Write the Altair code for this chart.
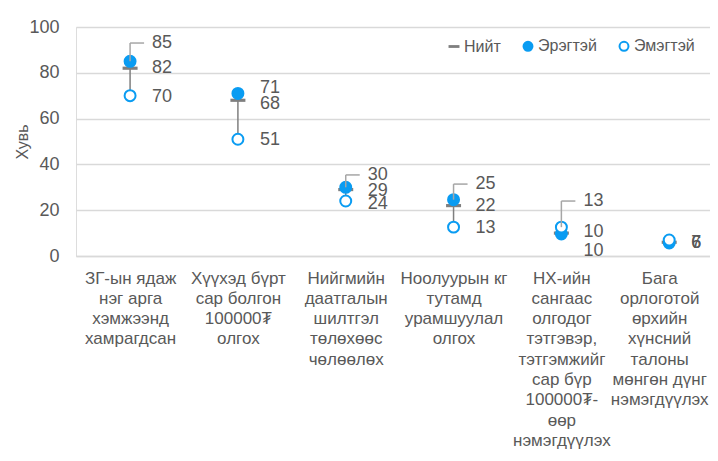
import altair as alt
import pandas as pd

categories = [
    "ЗГ-ын ядаж|нэг арга|хэмжээнд|хамрагдсан",
    "Хүүхэд бүрт|сар болгон|100000₮|олгох",
    "Нийгмийн|даатгалын|шилтгэл|төлөхөөс|чөлөөлөх",
    "Ноолуурын кг|тутамд|урамшуулал|олгох",
    "НХ-ийн|сангаас|олгодог|тэтгэвэр,|тэтгэмжийг|сар бүр|100000₮-|өөр|нэмэгдүүлэх",
    "Бага|орлоготой|өрхийн|хүнсний|талоны|мөнгөн дүнг|нэмэгдүүлэх",
]
series_names = ["Нийт", "Эрэгтэй", "Эмэгтэй"]
total = [82, 68, 29, 22, 10, 6]
male = [85, 71, 30, 24.6, 9.6, 5.7]
female = [70, 51, 24, 12.6, 12.6, 7]

# data-label nudges (value units) reproducing the label placement of the original
total_shift = [0, -1.8, -0.5, -0.2, -7.8, -0.3]
male_shift = [8, 2.5, 5.4, 6.8, 0.9, 0]
female_shift = [-0.5, -0.5, -1.3, -0.4, 11.4, -1.3]

BLUE = "#0a9cf2"
GRAY = "#7f7f7f"
TEXT = "#595959"
FONT = "Liberation Sans"

rows = []
for name, vals, shifts in [
    ("Нийт", total, total_shift),
    ("Эрэгтэй", male, male_shift),
    ("Эмэгтэй", female, female_shift),
]:
    for c, v, s in zip(categories, vals, shifts):
        rows.append({"cat": c, "series": name, "value": v,
                     "label_y": v + s, "leader": s > 4})
long = pd.DataFrame(rows)
wide = pd.DataFrame({"cat": categories, "male": male, "female": female})

xenc = alt.X("cat:N", sort=categories,
             scale=alt.Scale(type="point", padding=0.44, align=0.57),
             axis=alt.Axis(title=None, labelAngle=0, labelExpr="split(datum.label, '|')",
                           labelFontSize=17, labelColor=TEXT, labelFont=FONT,
                           labelLineHeight=20.3, labelPadding=14, labelBaseline="top",
                           labelOffset={"condition": {"test": "indexof(datum.value, 'Бага') == 0",
                                                      "value": -10}, "value": 0},
                           ticks=False, domainColor="#d9d9d9", domainWidth=1.5,
                           labelLimit=200))
yscale = alt.Scale(domain=[0, 100])
yaxis = alt.Axis(title="Хувь", values=[0, 20, 40, 60, 80, 100], domain=False, ticks=False,
                 gridColor="#d9d9d9", gridWidth=1.5, labelFontSize=18, labelColor=TEXT,
                 labelFont=FONT, labelPadding=17, titleFontSize=16, titleFont=FONT,
                 titleFontWeight="normal", titleColor=TEXT, titleX=-54, titleY=114.5,
                 titleAngle=270, titleAlign="center", titleBaseline="middle")

hilo = alt.Chart(wide).mark_rule(color=GRAY, strokeWidth=1.5).encode(
    x=xenc, y=alt.Y("male:Q", scale=yscale, axis=yaxis), y2="female:Q")

legend = alt.Legend(title=None, orient="none", legendX=370, legendY=11, direction="horizontal",
                    labelFontSize=16, labelColor=TEXT, labelFont=FONT, symbolSize=80,
                    symbolStrokeWidth=2, columnPadding=18, labelOffset=2, padding=0)
dom = series_names
enc = dict(
    x=xenc,
    y=alt.Y("value:Q", scale=yscale, axis=yaxis),
    shape=alt.Shape("series:N", sort=dom, legend=legend,
                    scale=alt.Scale(domain=dom, range=["M-1,-0.09H1V0.09H-1Z", "circle", "circle"])),
    fill=alt.Fill("series:N", sort=dom, legend=legend,
                  scale=alt.Scale(domain=dom, range=[GRAY, BLUE, "white"])),
    stroke=alt.Stroke("series:N", sort=dom, legend=legend,
                      scale=alt.Scale(domain=dom, range=[GRAY, BLUE, BLUE])),
)
pts_total = alt.Chart(long[long["series"] == "Нийт"]).mark_point(
    filled=True, opacity=1, strokeWidth=2, size=169).encode(**enc)
pts_sex = alt.Chart(long[long["series"] != "Нийт"]).mark_point(
    filled=True, opacity=1, strokeWidth=2, size=120).encode(**enc)

lead = long[long["leader"]]
leader_v = alt.Chart(lead).mark_rule(color="#a6a6a6", strokeWidth=1.5).encode(
    x=xenc, y=alt.Y("value:Q", scale=yscale, axis=yaxis), y2="label_y:Q")
leader_h = alt.Chart(lead).mark_rule(color="#a6a6a6", strokeWidth=1.5, xOffset=0,
                                     x2Offset=14).encode(
    x=xenc, x2="cat:N", y=alt.Y("label_y:Q", scale=yscale, axis=yaxis))

labels = alt.Chart(long).mark_text(align="left", baseline="middle", dx=22, fontSize=18,
                                   font=FONT, color=TEXT).encode(
    x=xenc, y=alt.Y("label_y:Q", scale=yscale, axis=yaxis),
    text=alt.Text("value:Q", format=".0f"))

chart = alt.layer(hilo, pts_total, pts_sex, leader_v, leader_h, labels).properties(
    width=634, height=229,
    autosize=alt.AutoSizeParams(type="none"),
    padding={"left": 68, "top": 19, "right": 0, "bottom": 195},
).configure_view(stroke=None).configure(background="white")

chart.save("out.html", embed_options={"renderer": "svg", "actions": False})
